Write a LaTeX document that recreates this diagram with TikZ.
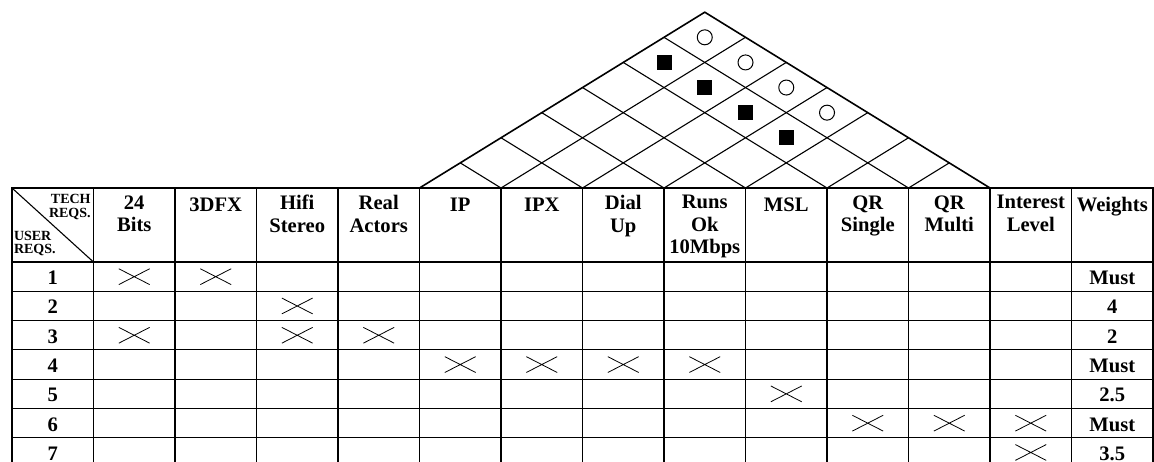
\documentclass[tikz,border=0pt]{standalone}
\usepackage{fontspec}
\setmainfont{Liberation Serif}
\usepackage{tikz}
\usetikzlibrary{shapes.misc}
\tikzset{hdr/.style = {anchor = base, align = center, inner sep = 0, font = \fontsize{10.3}{11.25}\selectfont\bfseries}}
\tikzset{head/.style = {hdr, anchor = north, execute at begin node = \strut}}
\tikzset{lbl/.style = {inner sep = 0, font = \fontsize{7}{6.8}\selectfont\bfseries}}
\tikzset{tick/.style = {draw, cross out, inner sep = 0, minimum width = 15, minimum height = 7.5, line width = 0.4}}
\tikzset{ring/.style = {draw, circle, inner sep = 0, minimum size = 7.5, line width = 0.5}}
\tikzset{blk/.style = {fill, inner sep = 0, minimum size = 7.5}}
\tikzset{grid/.style = {line width = 0.55}}
\tikzset{edge/.style = {line width = 1.1}}

\begin{document}
\begin{tikzpicture}[x = 40.75pt, y = 14.65pt]
      \useasboundingbox (-0.147, -9.317) rectangle (14.012, 6.416);
      \clip (-0.147, -9.317) rectangle (14.012, 6.416);

      \draw [edge, line width = 0.8] (5, 0) -- (8.5, 6) -- (12, 0);
      \foreach \k in {6, ..., 11} {
        \draw [grid] (\k, 0) -- ({(\k + 12) / 2}, {(12 - \k) * 6 / 7});
        \draw [grid] (\k, 0) -- ({(\k + 5) / 2}, {(\k - 5) * 6 / 7});
      }

      \foreach \i in {1, ..., 4} {
        \node [ring] (c\i) at ({5 + (\i + 6) / 2}, {(7 - \i) * 6 / 7}) {};
        \node [blk] (s\i) at ({5 + (\i + 5) / 2}, {(6 - \i) * 6 / 7}) {};
      }

      \foreach \k in {1, ..., 13}
        \draw [grid] (\k, 0) -- (\k, -9.6);
      \foreach \r in {1, ..., 6}
        \draw [grid] (0, {-2.526 - \r}) -- (14, {-2.526 - \r});
      \draw [edge] (0, -2.526) -- (14, -2.526);
      \draw [edge] (0, -9.6) -- (0, 0) -- (14, 0) -- (14, -9.6);

      \draw [grid] (0, 0) -- (1, -2.526);
      \node [lbl, anchor = base east, align = right] (tech) at (0.97, -0.99) {TECH\\REQS.};
      \node [lbl, anchor = base west, align = left] (user) at (0.02, -2.25) {USER\\REQS.};

      \foreach \k/\t in {1/{24\\Bits}, 2/3DFX, 3/{Hifi\\Stereo}, 4/{Real\\Actors}, 5/IP, 6/IPX, 7/{Dial\\Up},
                         8/{Runs\\Ok\\10Mbps}, 9/MSL, 10/{QR\\Single}, 11/{QR\\Multi}, 12/{Interest\\Level}, 13/Weights}
        \node [head] (h\k) at (\k + 0.5, -0.2375) {\t};

      \foreach \r/\w in {1/Must, 2/4, 3/2, 4/Must, 5/2.5, 6/Must, 7/3.5} {
        \node [hdr] (r\r) at (0.5, {-2.293 - \r}) {\r};
        \node [hdr] (w\r) at (13.5, {-2.293 - \r}) {\w};
      }

      \foreach \r/\k in {1/1, 1/2, 2/3, 3/1, 3/3, 3/4, 4/5, 4/6, 4/7, 4/8, 5/9, 6/10, 6/11, 6/12, 7/12}
        \node [tick] (x\r\k) at (\k + 0.5, {-2.026 - \r}) {};
\end{tikzpicture}
\end{document}
